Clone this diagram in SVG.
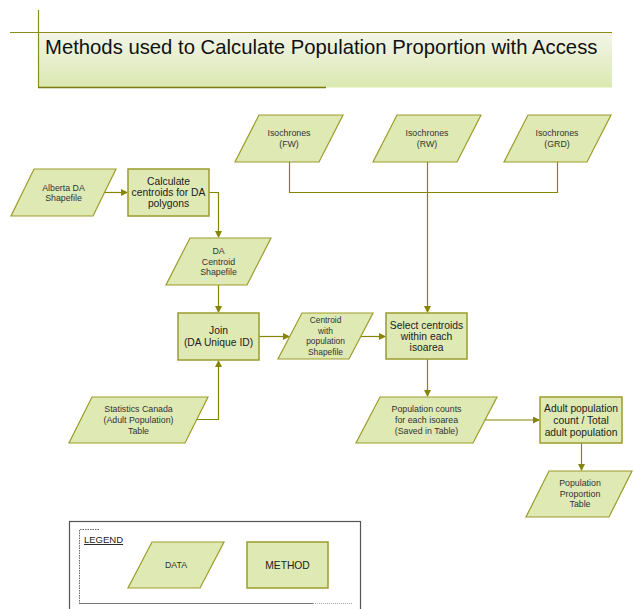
<svg xmlns="http://www.w3.org/2000/svg" width="634" height="609" viewBox="0 0 634 609">
<style>
.data{fill:#dfe9b3;stroke:#9c9c2c;stroke-width:1.2}
.method{fill:#dfe9b3;stroke:#9c9c2c;stroke-width:1.5}
.dt{font-family:"Liberation Sans",Arial,sans-serif;font-size:8.8px;fill:#333;text-anchor:middle}
.dt2{font-family:"Liberation Sans",Arial,sans-serif;font-size:8.4px;fill:#333;text-anchor:middle}
.mt{font-family:"Liberation Sans",Arial,sans-serif;font-size:10.3px;fill:#222;text-anchor:middle}
.conn{fill:none;stroke:#858500;stroke-width:1.2}
</style>
<defs>
<linearGradient id="tg" x1="0" y1="0" x2="0" y2="1">
<stop offset="0" stop-color="#f3f5ea"/>
<stop offset="1" stop-color="#dbe8b0"/>
</linearGradient>
<marker id="ah" markerWidth="7" markerHeight="7" refX="6" refY="3.5" orient="auto" markerUnits="userSpaceOnUse">
<path d="M0,0 L7,3.5 L0,7 Z" fill="#858500"/>
</marker>
</defs>
<rect width="634" height="609" fill="#ffffff"/>
<g id="title">
<rect x="38" y="32" width="574" height="55.5" fill="url(#tg)"/>
<line x1="38.5" y1="10" x2="38.5" y2="88" stroke="#8c8c1a" stroke-width="1.2"/>
<line x1="10" y1="32.5" x2="612" y2="32.5" stroke="#8c8c1a" stroke-width="1.2"/>
<line x1="38" y1="87.5" x2="326" y2="87.5" stroke="#7a7a10" stroke-width="1.6"/>
<text x="45" y="53.5" font-family="'Liberation Sans',Arial,sans-serif" font-size="20.3" fill="#111">Methods used to Calculate Population Proportion with Access</text>
</g>
<g id="connectors">
<path class="conn" d="M104,192.5 H127" marker-end="url(#ah)"/>
<path class="conn" d="M209,192.5 H218.5 V237" marker-end="url(#ah)"/>
<path class="conn" d="M218.5,285 V312" marker-end="url(#ah)"/>
<path class="conn" d="M196.5,419.5 H218.5 V361" marker-end="url(#ah)"/>
<path class="conn" d="M259,336.5 H289" marker-end="url(#ah)"/>
<path class="conn" d="M361,336.5 H385" marker-end="url(#ah)"/>
<path class="conn" d="M289.5,162 V192.5 H557.5 V162"/>
<path class="conn" d="M427.5,162 V312" marker-end="url(#ah)"/>
<path class="conn" d="M427.5,359 V396" marker-end="url(#ah)"/>
<path class="conn" d="M485,420 H539" marker-end="url(#ah)"/>
<path class="conn" d="M581.5,443 V470" marker-end="url(#ah)"/>
</g>
<g id="alberta">
<polygon class="data" points="34,169 116,169 93,216 11,216"/>
<text class="dt"><tspan x="63.5" y="190.5">Alberta DA</tspan><tspan x="63.5" y="200.5">Shapefile</tspan></text>
</g>
<g id="calc">
<rect class="method" x="128" y="169" width="81" height="47"/>
<text class="mt"><tspan x="168.5" y="184.5">Calculate</tspan><tspan x="168.5" y="195.5">centroids for DA</tspan><tspan x="168.5" y="206.5">polygons</tspan></text>
</g>
<g id="dacentroid">
<polygon class="data" points="190,238 271,238 247,285 166,285"/>
<text class="dt"><tspan x="218.5" y="254">DA</tspan><tspan x="218.5" y="264.5">Centroid</tspan><tspan x="218.5" y="275">Shapefile</tspan></text>
</g>
<g id="isoFW">
<polygon class="data" points="259,115 343,115 319,162 235,162"/>
<text class="dt"><tspan x="289" y="136">Isochrones</tspan><tspan x="289" y="147">(FW)</tspan></text>
</g>
<g id="isoRW">
<polygon class="data" points="397,115 481,115 457,162 373,162"/>
<text class="dt"><tspan x="427" y="136">Isochrones</tspan><tspan x="427" y="147">(RW)</tspan></text>
</g>
<g id="isoGRD">
<polygon class="data" points="528,115 611,115 587,162 504,162"/>
<text class="dt"><tspan x="557" y="136">Isochrones</tspan><tspan x="557" y="147">(GRD)</tspan></text>
</g>
<g id="join">
<rect class="method" x="178" y="313" width="81" height="47"/>
<text class="mt"><tspan x="218.5" y="333.7">Join</tspan><tspan x="218.5" y="345.7">(DA Unique ID)</tspan></text>
</g>
<g id="statscan">
<polygon class="data" points="92,397 208,397 185,443 69,443"/>
<text class="dt"><tspan x="138.5" y="412">Statistics Canada</tspan><tspan x="138.5" y="423">(Adult Population)</tspan><tspan x="138.5" y="433.5">Table</tspan></text>
</g>
<g id="centroidpop">
<polygon class="data" points="302,313 373,313 349,359 278,359"/>
<text class="dt2"><tspan x="325.5" y="323">Centroid</tspan><tspan x="325.5" y="334">with</tspan><tspan x="325.5" y="344">population</tspan><tspan x="325.5" y="355">Shapefile</tspan></text>
</g>
<g id="select">
<rect class="method" x="386" y="313" width="81" height="46"/>
<text class="mt"><tspan x="426.5" y="328.7">Select centroids</tspan><tspan x="426.5" y="339.7">within each</tspan><tspan x="426.5" y="350.7">isoarea</tspan></text>
</g>
<g id="popcounts">
<polygon class="data" points="380,397 497,397 473,443 356,443"/>
<text class="dt"><tspan x="426.5" y="412">Population counts</tspan><tspan x="426.5" y="423">for each isoarea</tspan><tspan x="426.5" y="433.5">(Saved in Table)</tspan></text>
</g>
<g id="adult">
<rect class="method" x="540" y="397" width="82" height="46"/>
<text class="mt"><tspan x="581" y="411.7">Adult population</tspan><tspan x="581" y="423.7">count / Total</tspan><tspan x="581" y="435.7">adult population</tspan></text>
</g>
<g id="popprop">
<polygon class="data" points="549,471 632,471 609,517 526,517"/>
<text class="dt"><tspan x="580" y="486">Population</tspan><tspan x="580" y="497">Proportion</tspan><tspan x="580" y="507">Table</tspan></text>
</g>
<g id="legend">
<rect x="69.5" y="521.5" width="291" height="100" fill="#ffffff" stroke="#555" stroke-width="1.2"/>
<path d="M99,529.5 H79.5 V604" fill="none" stroke="#666" stroke-width="1" stroke-dasharray="1.5,1"/>
<line x1="79.5" y1="603.5" x2="313" y2="603.5" stroke="#777" stroke-width="1"/>
<line x1="313" y1="603.5" x2="352" y2="603.5" stroke="#aaa" stroke-width="1" stroke-dasharray="1,1"/>
<text x="84" y="543" font-family="'Liberation Sans',Arial,sans-serif" font-size="9.5" fill="#222" text-decoration="underline">LEGEND</text>
<polygon class="data" points="152,542 224,542 200,588 128,588"/>
<text class="dt" x="176" y="568">DATA</text>
<rect class="method" x="247" y="542" width="81" height="46"/>
<text class="mt" x="287.5" y="568.5">METHOD</text>
</g>
</svg>
